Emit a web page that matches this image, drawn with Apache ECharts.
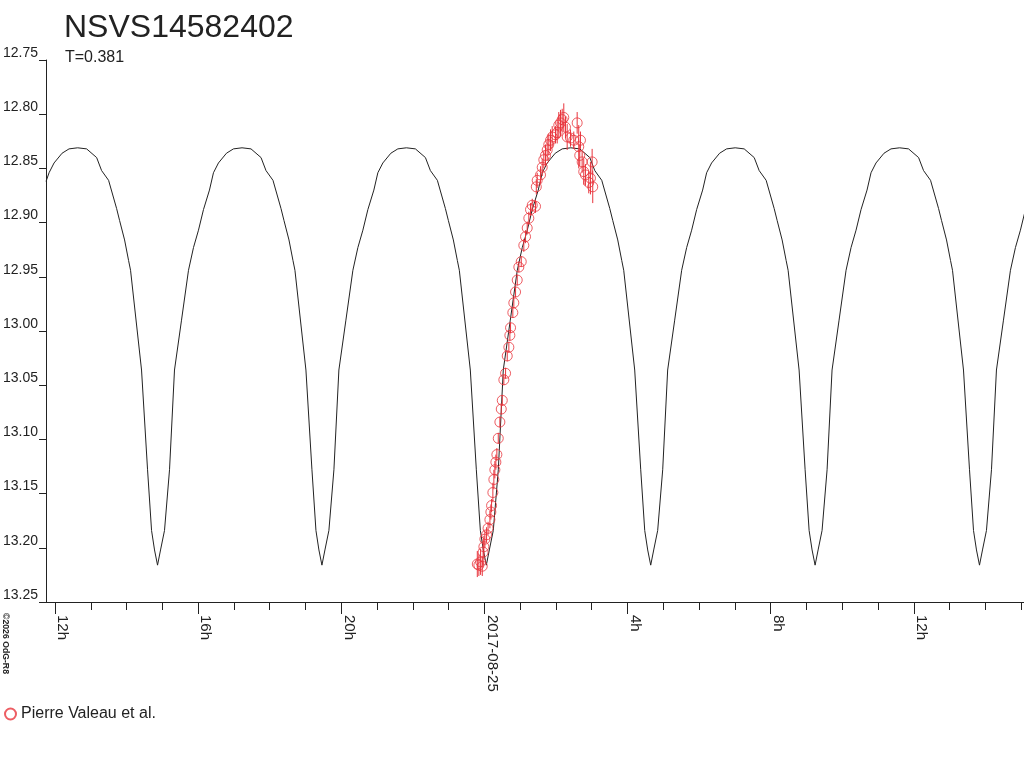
<!DOCTYPE html>
<html>
<head>
<meta charset="utf-8">
<script src="https://cdn.jsdelivr.net/npm/echarts@6/dist/echarts.min.js"></script>
<style>
html,body{margin:0;padding:0;background:#fff;}
#chart{width:1024px;height:768px;}
</style>
</head>
<body>
<div id="chart"></div>
<script>
// x values are hours relative to 2017-08-25 00:00
const xMinorTicks = [-12,-11,-10,-9,-8,-7,-6,-5,-4,-3,-2,-1,0,1,2,3,4,5,6,7,8,9,10,11,12,13,14,15];
const xMajorTicks = [-12,-8,-4,0,4,8,12];
const yTicks = [12.75,12.80,12.85,12.90,12.95,13.00,13.05,13.10,13.15,13.20,13.25];

const modelHours = [
  -12.25, -12.165, -12.026, -11.802, -11.607,
  -11.367, -11.116, -10.836, -10.697, -10.502, -10.278, -10.195, -10.055, -9.943, -9.888, -9.581, -9.413, -9.301, -9.218, -9.134, -9.050, -8.939, -8.799, -8.660, -8.464, -8.269, -8.129, -7.990, -7.850, -7.683, -7.571, -7.432, -7.208, -7.013,
  -6.773, -6.522, -6.242, -6.103, -5.908, -5.684, -5.601, -5.461, -5.349, -5.294, -4.987, -4.819, -4.707, -4.624, -4.540, -4.456, -4.345, -4.205, -4.066, -3.870, -3.675, -3.535, -3.396, -3.256, -3.089, -2.977, -2.838, -2.614, -2.419,
  -2.179, -1.928, -1.648, -1.509, -1.314, -1.090, -1.007, -0.867, -0.755, -0.700, -0.393, -0.225, -0.113, -0.030, 0.054, 0.138, 0.249, 0.389, 0.528, 0.724, 0.919, 1.059, 1.198, 1.338, 1.505, 1.617, 1.756, 1.980, 2.175,
  2.415, 2.666, 2.946, 3.085, 3.280, 3.504, 3.587, 3.727, 3.839, 3.894, 4.201, 4.369, 4.481, 4.564, 4.648, 4.732, 4.843, 4.983, 5.122, 5.318, 5.513, 5.653, 5.792, 5.932, 6.099, 6.211, 6.350, 6.574, 6.769,
  7.009, 7.260, 7.540, 7.679, 7.874, 8.098, 8.181, 8.321, 8.433, 8.488, 8.795, 8.963, 9.075, 9.158, 9.242, 9.326, 9.437, 9.577, 9.716, 9.912, 10.107, 10.247, 10.386, 10.526, 10.693, 10.805, 10.944, 11.168, 11.363,
  11.603, 11.854, 12.134, 12.273, 12.468, 12.692, 12.775, 12.915, 13.027, 13.082, 13.389, 13.557, 13.669, 13.752, 13.836, 13.920, 14.031, 14.171, 14.310, 14.506, 14.701, 14.841, 14.980, 15.120
];
const modelMag = [
  12.862, 12.854, 12.845, 12.836, 12.832,
  12.831, 12.832, 12.840, 12.852, 12.861, 12.887, 12.898, 12.916, 12.935, 12.944, 13.036, 13.128, 13.184, 13.202, 13.216, 13.202, 13.184, 13.128, 13.036, 12.990, 12.944, 12.923, 12.907, 12.888, 12.870, 12.854, 12.845, 12.836, 12.832,
  12.831, 12.832, 12.840, 12.852, 12.861, 12.887, 12.898, 12.916, 12.935, 12.944, 13.036, 13.128, 13.184, 13.202, 13.216, 13.202, 13.184, 13.128, 13.036, 12.990, 12.944, 12.923, 12.907, 12.888, 12.870, 12.854, 12.845, 12.836, 12.832,
  12.831, 12.832, 12.840, 12.852, 12.861, 12.887, 12.898, 12.916, 12.935, 12.944, 13.036, 13.128, 13.184, 13.202, 13.216, 13.202, 13.184, 13.128, 13.036, 12.990, 12.944, 12.923, 12.907, 12.888, 12.870, 12.854, 12.845, 12.836, 12.832,
  12.831, 12.832, 12.840, 12.852, 12.861, 12.887, 12.898, 12.916, 12.935, 12.944, 13.036, 13.128, 13.184, 13.202, 13.216, 13.202, 13.184, 13.128, 13.036, 12.990, 12.944, 12.923, 12.907, 12.888, 12.870, 12.854, 12.845, 12.836, 12.832,
  12.831, 12.832, 12.840, 12.852, 12.861, 12.887, 12.898, 12.916, 12.935, 12.944, 13.036, 13.128, 13.184, 13.202, 13.216, 13.202, 13.184, 13.128, 13.036, 12.990, 12.944, 12.923, 12.907, 12.888, 12.870, 12.854, 12.845, 12.836, 12.832,
  12.831, 12.832, 12.840, 12.852, 12.861, 12.887, 12.898, 12.916, 12.935, 12.944, 13.036, 13.128, 13.184, 13.202, 13.216, 13.202, 13.184, 13.128, 13.036, 12.990, 12.944, 12.923, 12.907, 12.888
];

const obsHours = [-0.198, -0.154, -0.106, -0.059, -0.036, -0.014, 0.014, 0.061, 0.103, 0.154, 0.181, 0.201, 0.237, 0.265, 0.293, 0.321, 0.349, 0.388, 0.433, 0.472, 0.500, 0.544, 0.592, 0.639, 0.684, 0.712, 0.731, 0.795, 0.823, 0.871, 0.918, 0.963, 1.030, 1.102, 1.150, 1.197, 1.242, 1.289, 1.337, 1.429, 1.451, 1.476, 1.569, 1.616, 1.661, 1.708, 1.755, 1.800, 1.848, 1.895, 1.987, 2.035, 2.079, 2.127, 2.174, 2.219, 2.266, 2.314, 2.406, 2.498, 2.593, 2.637, 2.665, 2.685, 2.732, 2.777, 2.824, 2.917, 2.964, 3.011, 3.028];
const obsMag = [13.215, 13.216, 13.213, 13.217, 13.204, 13.199, 13.192, 13.188, 13.182, 13.174, 13.167, 13.161, 13.149, 13.137, 13.128, 13.121, 13.114, 13.099, 13.084, 13.072, 13.064, 13.045, 13.039, 13.023, 13.015, 13.004, 12.997, 12.983, 12.974, 12.964, 12.953, 12.941, 12.936, 12.921, 12.913, 12.905, 12.896, 12.888, 12.884, 12.885, 12.867, 12.861, 12.856, 12.849, 12.842, 12.838, 12.833, 12.828, 12.824, 12.821, 12.819, 12.817, 12.810, 12.808, 12.805, 12.803, 12.812, 12.821, 12.822, 12.824, 12.808, 12.830, 12.838, 12.824, 12.844, 12.853, 12.856, 12.863, 12.859, 12.844, 12.867];
const obsErr = [0.012, 0.010, 0.012, 0.009, 0.012, 0.010, 0.008,
  0.007, 0.006, 0.008, 0.007, 0.006, 0.009, 0.009,
  0.008, 0.007, 0.006, 0.005, 0.005, 0.005, 0.005,
  0.005, 0.005, 0.005, 0.005, 0.005, 0.005, 0.005,
  0.005, 0.005, 0.005, 0.005, 0.005, 0.006, 0.006,
  0.006, 0.006, 0.006, 0.006, 0.006, 0.007, 0.007,
  0.008, 0.008, 0.008, 0.010, 0.010, 0.010, 0.010,
  0.010, 0.008, 0.010, 0.012, 0.012, 0.010, 0.013,
  0.010, 0.012, 0.008, 0.008, 0.010, 0.020, 0.010,
  0.008, 0.010, 0.012, 0.010, 0.010, 0.015, 0.012, 0.015];

const RED = '#e8343c';
const INK = '#222222';
const FONT = "'Liberation Sans', Arial, sans-serif";

const chart = echarts.init(document.getElementById('chart'), null, {renderer: 'canvas'});

function hourLabel(v) {
  const r = Math.round(v);
  if (r === 0) return '2017-08-25';
  return (((r % 24) + 24) % 24) + 'h';
}

const option = {
  backgroundColor: '#ffffff',
  animation: false,
  title: [
    {text: 'NSVS14582402', left: 64, top: 12, padding: 0,
     textStyle: {fontFamily: FONT, fontSize: 32, fontWeight: 'normal', color: INK}},
    {text: 'T=0.381', left: 65, top: 50, padding: 0,
     textStyle: {fontFamily: FONT, fontSize: 16, fontWeight: 'normal', color: INK}}
  ],
  legend: {
    data: ['Pierre Valeau et al.'],
    left: 4, top: 706, padding: 0,
    itemWidth: 11, itemHeight: 11,
    textStyle: {fontFamily: FONT, fontSize: 16, color: INK}
  },
  grid: {left: 45, right: 0, top: 60, bottom: 166, containLabel: false},
  xAxis: [
    {
      type: 'value', min: -12.25, max: 15.08, position: 'bottom',
      axisLine: {show: true, onZero: false, lineStyle: {color: INK, width: 1}},
      axisTick: {show: true, length: 8, customValues: xMinorTicks, lineStyle: {color: INK, width: 1}},
      axisLabel: {show: false},
      splitLine: {show: false}
    },
    {
      type: 'value', min: -12.25, max: 15.08, position: 'bottom',
      axisLine: {show: false, onZero: false},
      axisTick: {show: true, length: 12, customValues: xMajorTicks, lineStyle: {color: INK, width: 1}},
      axisLabel: {
        show: true, customValues: xMajorTicks, rotate: -90, margin: 13,
        align: 'left', verticalAlign: 'bottom',
        fontFamily: FONT, fontSize: 15, color: INK,
        formatter: hourLabel
      },
      splitLine: {show: false}
    }
  ],
  yAxis: {
    type: 'value', inverse: true, min: 12.75, max: 13.25, interval: 0.05,
    axisLine: {show: true, onZero: false, lineStyle: {color: INK, width: 1}},
    axisTick: {show: true, length: 7, lineStyle: {color: INK, width: 1}},
    axisLabel: {
      show: true, margin: 8, verticalAlign: 'bottom',
      fontFamily: FONT, fontSize: 14, color: INK,
      formatter: v => Number(v).toFixed(2)
    },
    splitLine: {show: false}
  },
  series: [
    {
      name: 'model', type: 'line', xAxisIndex: 0,
      data: modelHours.map((h, i) => [h, modelMag[i]]),
      showSymbol: false, symbol: 'none', smooth: false, clip: true,
      lineStyle: {color: INK, width: 1}, z: 2
    },
    {
      name: 'errors', type: 'custom', xAxisIndex: 0,
      data: obsHours.map((h, i) => [h, obsMag[i] - obsErr[i], obsMag[i] + obsErr[i]]),
      encode: {x: 0, y: [1, 2]},
      renderItem: function (params, api) {
        const x = api.value(0);
        const p1 = api.coord([x, api.value(1)]);
        const p2 = api.coord([x, api.value(2)]);
        return {type: 'line', shape: {x1: p1[0], y1: p1[1], x2: p2[0], y2: p2[1]},
                style: {stroke: RED, lineWidth: 1}};
      },
      z: 3
    },
    {
      name: 'Pierre Valeau et al.', type: 'scatter', xAxisIndex: 0,
      data: obsHours.map((h, i) => [h, obsMag[i]]),
      symbol: 'circle', symbolSize: 10,
      itemStyle: {color: 'rgba(255,255,255,0)', borderColor: RED, borderWidth: 1},
      z: 4
    }
  ],
  graphic: [
    {type: 'text', x: 1, y: 613, rotation: -Math.PI / 2,
     style: {text: '©2026 OdG-R8', font: "bold 8.7px " + FONT, fill: INK,
             textAlign: 'left', textVerticalAlign: 'bottom'}}
  ]
};
chart.setOption(option);
</script>
</body>
</html>
